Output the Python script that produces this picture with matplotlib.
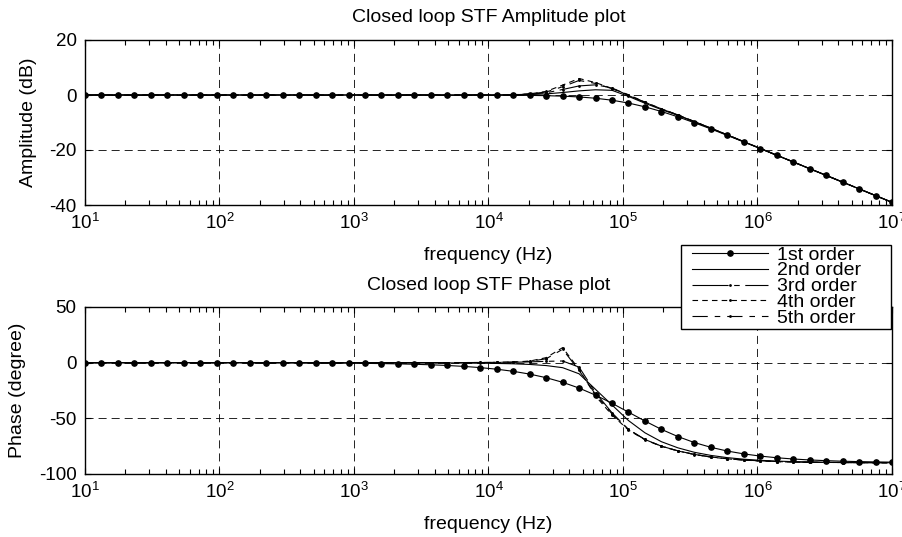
import numpy as np
import matplotlib
matplotlib.use("Agg")
import matplotlib.pyplot as plt
from matplotlib.patches import Rectangle
from matplotlib.ticker import LogLocator, FixedLocator, NullFormatter

plt.rcParams['font.family'] = ['Liberation Sans', 'DejaVu Sans']
plt.rcParams['font.size'] = 14
plt.rcParams['mathtext.fontset'] = 'custom'
plt.rcParams['mathtext.rm'] = 'Liberation Sans'
plt.rcParams['lines.scale_dashes'] = False
plt.rcParams['axes.unicode_minus'] = False

# --- frequency grid: 50 log-spaced points, 10 Hz .. 10 MHz ---
freq = np.logspace(1, 7, 50)

labels = ["1st order", "2nd order", "3rd order", "4th order", "5th order"]

# --- closed loop STF amplitude (dB) ---
amp_1st = [0, 0, 0, 0, 0, 0, 0, 0, 0, 0,
           0, 0, 0, 0, 0, 0, 0, 0, 0, 0,
           -0.01, -0.01, -0.01, -0.02, -0.03, -0.05, -0.08, -0.14, -0.24, -0.42,
           -0.71, -1.18, -1.89, -2.93, -4.30, -6.00, -7.94, -10.09, -12.33, -14.69,
           -17.07, -19.47, -21.91, -24.33, -26.79, -29.22, -31.68, -34.12, -36.58, -39.02]
amp_2nd = [0, 0, 0, 0, 0, 0, 0, 0, 0, 0,
           0, 0, 0, 0, 0, 0, 0, 0, 0, 0,
           0, 0, 0, 0, 0, 0, 0.05, 0.15, 0.4, 0.9,
           1.5, 1.9, 1.7, -0.5, -3.0, -5.3, -7.4, -9.75, -12.1, -14.55,
           -17.0, -19.45, -21.9, -24.33, -26.79, -29.22, -31.68, -34.12, -36.58, -39.02]
amp_3rd = [0, 0, 0, 0, 0, 0, 0, 0, 0, 0,
           0, 0, 0, 0, 0, 0, 0, 0, 0, 0,
           0, 0, 0, 0, 0, 0, 0.1, 0.3, 0.8, 2.0,
           3.3, 3.7, 2.6, -0.2, -2.7, -5.1, -7.3, -9.7, -12.05, -14.5,
           -16.95, -19.43, -21.9, -24.33, -26.79, -29.22, -31.68, -34.12, -36.58, -39.02]
amp_4th = [0, 0, 0, 0, 0, 0, 0, 0, 0, 0,
           0, 0, 0, 0, 0, 0, 0, 0, 0, 0,
           0, 0, 0, 0, 0, 0, 0.1, 0.4, 1.3, 3.6,
           6.0, 4.5, 2.4, 0.1, -2.6, -5.0, -7.25, -9.65, -12.05, -14.5,
           -16.95, -19.43, -21.9, -24.33, -26.79, -29.22, -31.68, -34.12, -36.58, -39.02]
amp_5th = [0, 0, 0, 0, 0, 0, 0, 0, 0, 0,
           0, 0, 0, 0, 0, 0, 0, 0, 0, 0,
           0, 0, 0, 0, 0, 0, 0.1, 0.35, 1.1, 3.0,
           5.3, 4.2, 2.3, 0.0, -2.65, -5.05, -7.25, -9.65, -12.05, -14.5,
           -16.95, -19.43, -21.9, -24.33, -26.79, -29.22, -31.68, -34.12, -36.58, -39.02]

# --- closed loop STF phase (degree) ---
ph_1st = [-0.01, -0.01, -0.01, -0.01, -0.02, -0.02, -0.03, -0.04, -0.05, -0.07,
          -0.09, -0.11, -0.15, -0.20, -0.27, -0.35, -0.47, -0.62, -0.82, -1.08,
          -1.44, -1.91, -2.53, -3.35, -4.44, -5.87, -7.77, -10.26, -13.49, -17.63,
          -22.82, -29.18, -36.48, -44.47, -52.43, -59.92, -66.37, -71.76, -76.02, -79.38,
          -81.94, -83.90, -85.40, -86.52, -87.38, -88.02, -88.51, -88.87, -89.15, -89.36]
ph_2nd = [0, 0, 0, 0, 0, 0, 0, 0, 0, 0,
          0, 0, 0, 0, 0, 0, 0, 0, 0, 0,
          -0.1, -0.15, -0.2, -0.3, -0.45, -0.7, -1.0, -1.6, -2.6, -4.5,
          -10.0, -24.0, -38.0, -52.0, -63.0, -71.0, -76.5, -80.5, -83.3, -85.3,
          -86.7, -87.7, -88.4, -88.9, -89.2, -89.5, -89.6, -89.7, -89.8, -89.9]
ph_3rd = [0, 0, 0, 0, 0, 0, 0, 0, 0, 0,
          0, 0, 0, 0, 0, 0, 0, 0, 0, 0,
          0, 0, 0, 0.05, 0.1, 0.2, 0.35, 0.7, 1.2, 1.5,
          -4.0, -27.0, -45.0, -60.0, -69.0, -75.0, -79.2, -82.4, -84.7, -86.3,
          -87.4, -88.2, -88.8, -89.2, -89.5, -89.6, -89.7, -89.8, -89.9, -89.9]
ph_4th = [0, 0, 0, 0, 0, 0, 0, 0, 0, 0,
          0, 0, 0, 0, 0, 0, 0, 0, 0, 0,
          0, 0, 0, 0.1, 0.15, 0.3, 0.6, 1.4, 4.5, 13.5,
          -6.0, -30.0, -47.0, -60.5, -69.3, -75.2, -79.3, -82.5, -84.8, -86.4,
          -87.5, -88.3, -88.9, -89.3, -89.5, -89.6, -89.7, -89.8, -89.9, -89.9]
ph_5th = [0, 0, 0, 0, 0, 0, 0, 0, 0, 0,
          0, 0, 0, 0, 0, 0, 0, 0, 0, 0,
          0, 0, 0, 0.1, 0.15, 0.3, 0.55, 1.2, 3.5, 12.0,
          -7.0, -28.5, -46.0, -60.0, -69.0, -75.0, -79.2, -82.4, -84.7, -86.3,
          -87.4, -88.2, -88.8, -89.2, -89.5, -89.6, -89.7, -89.8, -89.9, -89.9]

amp_all = [amp_1st, amp_2nd, amp_3rd, amp_4th, amp_5th]
ph_all = [ph_1st, ph_2nd, ph_3rd, ph_4th, ph_5th]

# line style per order (black, matlab-like)
styles = [
    dict(ls='-', marker='o', ms=3.8),
    dict(ls='-'),
    dict(ls=(0, (26, 4, 4, 4)), marker='.', ms=2),
    dict(ls=(0, (4, 3)), marker='.', ms=2),
    dict(ls=(0, (11, 5, 4, 5)), marker='.', ms=2),
]


def style_axes(ax, yticks):
    ax.set_xscale('log')
    ax.set_xlim(1e1, 1e7)
    ax.set_ylim(yticks[0], yticks[-1])
    ax.yaxis.set_major_locator(FixedLocator(yticks))
    ax.xaxis.set_major_locator(FixedLocator([1e1, 1e2, 1e3, 1e4, 1e5, 1e6, 1e7]))
    ax.xaxis.set_minor_locator(LogLocator(base=10, subs=np.arange(2, 10), numticks=100))
    ax.xaxis.set_minor_formatter(NullFormatter())
    ax.tick_params(which='both', direction='in', top=True, right=True, width=0.8,
                   labelsize=13.5)
    ax.tick_params(which='major', length=4.5, pad=6)
    ax.tick_params(which='minor', length=3.5)
    ax.grid(True, which='major', color='black', lw=0.6, ls=(0, (5.8, 3.6)))
    for sp in ax.spines.values():
        sp.set_linewidth(1.0)


fig = plt.figure(figsize=(9.03, 5.37), dpi=100)
W, H = 903.0, 537.0
ax1 = fig.add_axes([85 / W, 1 - 205 / H, 807 / W, 165 / H])
ax2 = fig.add_axes([85 / W, 1 - 474 / H, 807 / W, 167 / H])

for vals, st, lab in zip(amp_all, styles, labels):
    ax1.plot(freq, vals, color='black', lw=0.8, label=lab, **st)
for vals, st, lab in zip(ph_all, styles, labels):
    ax2.plot(freq, vals, color='black', lw=0.8, label=lab, **st)

style_axes(ax1, [-40, -20, 0, 20])
style_axes(ax2, [-100, -50, 0, 50])

ax1.set_title("Closed loop STF Amplitude plot", fontsize=14, pad=13)
ax1.set_xlabel("frequency (Hz)", labelpad=10)
ax1.set_ylabel("Amplitude (dB)", labelpad=9)

ax2.set_title("Closed loop STF Phase plot", fontsize=14, pad=12)
ax2.set_xlabel("frequency (Hz)", labelpad=10)
ax2.set_ylabel("Phase (degree)", labelpad=9)

# legend box sits across the gap between the two panels
box = Rectangle((681 / W, 1 - 329 / H), 210 / W, 84 / H, transform=fig.transFigure,
                facecolor='white', edgecolor='black', lw=1.0, clip_on=False, zorder=9)
ax2.add_patch(box)
leg = ax2.legend(loc='upper left', bbox_to_anchor=(691 / W, 1 - 245 / H),
                 bbox_transform=fig.transFigure, frameon=False, fontsize=14,
                 handlelength=3.9, handletextpad=0.45, labelspacing=-0.09,
                 borderpad=0.05, borderaxespad=0)
leg.set_zorder(10)

fig.savefig("out.png", dpi=100)
